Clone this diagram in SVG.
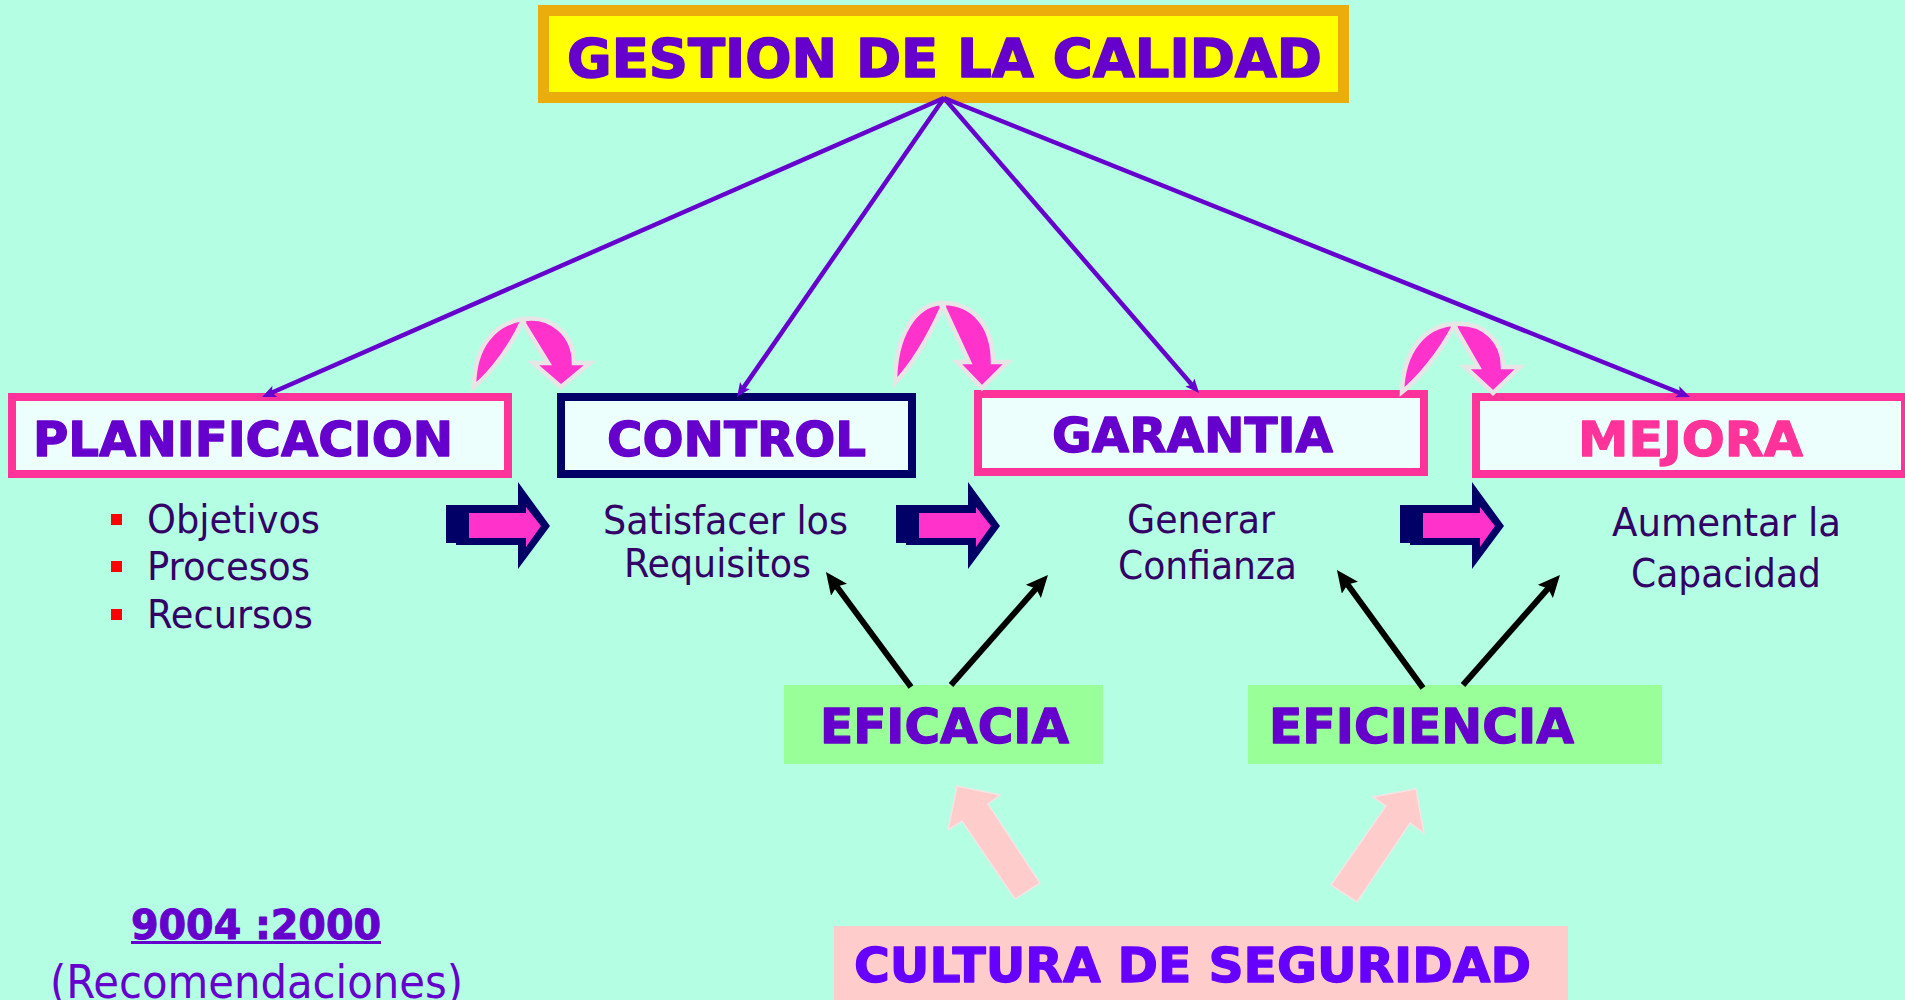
<svg xmlns="http://www.w3.org/2000/svg" width="1905" height="1000" viewBox="0 0 1905 1000">
<style>
.lbl{font-family:'DejaVu Sans','Liberation Sans',sans-serif;font-weight:bold;font-size:48px;fill:#6600CC;stroke:#6600CC;stroke-width:1.3;stroke-linejoin:round}
.body{font-family:'DejaVu Sans Condensed','DejaVu Sans',sans-serif;font-stretch:condensed;font-size:39px;fill:#330066}
.box{fill:#ECFFFC;stroke:#FF3399;stroke-width:8}
.curv{fill:#FF33CC;stroke:#E6E6E6;stroke-width:4.5;stroke-linejoin:miter}
.bo{fill:#000066}
.bi{fill:#FF33CC}
.pl{stroke:#6600CC;stroke-width:4.5;fill:none}
.bl{stroke:#000000;stroke-width:6;fill:none}
.green{fill:#99FF99}
.up{fill:#FFCCCC;stroke:#F4E4E4;stroke-width:1.5}
</style>
<defs>
<marker id="mp" viewBox="0 0 14 12" refX="6" refY="6" markerWidth="14" markerHeight="12" markerUnits="userSpaceOnUse" orient="auto">
<path d="M0,0 L14,6 L0,12 L3,6 z" fill="#6600CC"/>
</marker>
<marker id="mb" viewBox="0 0 22 20" refX="8" refY="10" markerWidth="22" markerHeight="20" markerUnits="userSpaceOnUse" orient="auto">
<path d="M0,0 L22,10 L0,20 L4,10 z" fill="#000000"/>
</marker>
</defs>
<rect x="0" y="0" width="1905" height="1000" fill="#B4FFE4"/>

<g id="title">
<rect x="543.5" y="10.5" width="800" height="87" fill="#FFFF00" stroke="#EBAD0C" stroke-width="11"/>
<text class="lbl" x="567" y="77" style="font-size:54px;stroke-width:1.6" textLength="755" lengthAdjust="spacingAndGlyphs">GESTION DE LA CALIDAD</text>
</g>

<g id="planificacion">
<rect class="box" x="12" y="397" width="496" height="77"/>
<text class="lbl" x="33" y="456" textLength="420" lengthAdjust="spacingAndGlyphs">PLANIFICACION</text>
<rect x="111" y="514" width="11" height="11" fill="#FF0000"/>
<rect x="111" y="561" width="11" height="11" fill="#FF0000"/>
<rect x="111" y="609" width="11" height="11" fill="#FF0000"/>
<text class="body" x="147" y="533" textLength="173" lengthAdjust="spacingAndGlyphs">Objetivos</text>
<text class="body" x="147" y="580" textLength="163" lengthAdjust="spacingAndGlyphs">Procesos</text>
<text class="body" x="147" y="628" textLength="166" lengthAdjust="spacingAndGlyphs">Recursos</text>
</g>

<g id="control">
<rect x="561" y="397" width="351" height="77" fill="#ECFFFC" stroke="#000066" stroke-width="8"/>
<text class="lbl" x="607" y="456" textLength="259" lengthAdjust="spacingAndGlyphs">CONTROL</text>
<text class="body" x="603" y="534" textLength="245" lengthAdjust="spacingAndGlyphs">Satisfacer los</text>
<text class="body" x="624" y="577" textLength="187" lengthAdjust="spacingAndGlyphs">Requisitos</text>
</g>

<g id="garantia">
<rect class="box" x="978" y="394" width="446" height="78"/>
<text class="lbl" x="1052" y="452" textLength="281" lengthAdjust="spacingAndGlyphs">GARANTIA</text>
<text class="body" x="1127" y="533" textLength="148" lengthAdjust="spacingAndGlyphs">Generar</text>
<text class="body" x="1118" y="579" textLength="179" lengthAdjust="spacingAndGlyphs">Confianza</text>
</g>

<g id="mejora">
<rect class="box" x="1476" y="397" width="429" height="77"/>
<text class="lbl" x="1578" y="456" style="fill:#FF3399;stroke:#FF3399" textLength="225" lengthAdjust="spacingAndGlyphs">MEJORA</text>
<text class="body" x="1612" y="536" textLength="229" lengthAdjust="spacingAndGlyphs">Aumentar la</text>
<text class="body" x="1631" y="587" textLength="190" lengthAdjust="spacingAndGlyphs">Capacidad</text>
</g>

<g id="eficacia">
<rect class="green" x="784" y="685" width="319" height="79"/>
<text class="lbl" x="820" y="743" textLength="249" lengthAdjust="spacingAndGlyphs">EFICACIA</text>
</g>

<g id="eficiencia">
<rect class="green" x="1248" y="685" width="414" height="79"/>
<text class="lbl" x="1269" y="743" textLength="305" lengthAdjust="spacingAndGlyphs">EFICIENCIA</text>
</g>

<g id="cultura">
<rect x="834" y="926" width="734" height="80" fill="#FFCCCC"/>
<text class="lbl" x="854" y="982" style="fill:#6600FF;stroke:#6600FF" textLength="677" lengthAdjust="spacingAndGlyphs">CULTURA DE SEGURIDAD</text>
</g>

<g id="norma">
<text class="lbl" x="131" y="939" style="font-size:40px;stroke-width:1" textLength="250" lengthAdjust="spacingAndGlyphs">9004 :2000</text>
<rect x="131" y="941" width="250" height="3" fill="#6600CC"/>
<text class="body" x="50" y="998" style="font-size:46px;fill:#6600CC" textLength="413" lengthAdjust="spacingAndGlyphs">(Recomendaciones)</text>
</g>

<g id="curved-arrows">
<path class="curv" d="M522,319 C495,324 474,345 474,387 C492,372 512,345 522,322 Z"/>
<path class="curv" d="M524,319 C552,315 574,335 574,363 L590,363 L561,387 L533,363 L548,363 L524,324 Z"/>
<path class="curv" d="M941,303 C915,305 895,335 895,383 C915,362 932,330 942,308 Z"/>
<path class="curv" d="M943,303 C975,303 993,328 993,362 L1008,362 L982,388 L957,362 L969,362 L944,308 Z"/>
<path class="curv" d="M1453,324 C1425,326 1403,350 1402,392 C1420,378 1440,352 1453,328 Z"/>
<path class="curv" d="M1455,324 C1485,322 1503,342 1503,367 L1520,367 L1493,393 L1465,367 L1478,367 L1456,329 Z"/>
</g>

<g id="block-arrows">
<g transform="translate(446,526)">
<rect class="bo" x="0" y="-21" width="16" height="38"/>
<polygon class="bo" points="10,-21 72,-21 72,-44 104,0 72,43 72,19 10,19"/>
<polygon class="bi" points="23,-13 80,-13 80,-19 95,0 80,21 80,12 23,12"/>
</g>
<g transform="translate(896,526)">
<rect class="bo" x="0" y="-21" width="16" height="38"/>
<polygon class="bo" points="10,-21 72,-21 72,-44 104,0 72,43 72,19 10,19"/>
<polygon class="bi" points="23,-13 80,-13 80,-19 95,0 80,21 80,12 23,12"/>
</g>
<g transform="translate(1400,526)">
<rect class="bo" x="0" y="-21" width="16" height="38"/>
<polygon class="bo" points="10,-21 72,-21 72,-44 104,0 72,43 72,19 10,19"/>
<polygon class="bi" points="23,-13 80,-13 80,-19 95,0 80,21 80,12 23,12"/>
</g>
</g>

<g id="up-arrows">
<polygon class="up" points="957,786 1000,795 988,804 1040,883 1015,899 962,821 948,830"/>
<polygon class="up" points="1416,789 1424,833 1410,823 1357,902 1331,885 1386,806 1373,797"/>
</g>

<g id="connectors">
<line class="pl" x1="944" y1="98" x2="269.3" y2="393.8" marker-end="url(#mp)"/>
<line class="pl" x1="944" y1="98" x2="741.6" y2="390.4" marker-end="url(#mp)"/>
<line class="pl" x1="944" y1="98" x2="1193.8" y2="387" marker-end="url(#mp)"/>
<line class="pl" x1="944" y1="98" x2="1682.6" y2="394" marker-end="url(#mp)"/>
<line class="bl" x1="911" y1="687" x2="834.3" y2="583.3" marker-end="url(#mb)"/>
<line class="bl" x1="951" y1="685" x2="1038.7" y2="585.5" marker-end="url(#mb)"/>
<line class="bl" x1="1423" y1="688" x2="1345.2" y2="581.3" marker-end="url(#mb)"/>
<line class="bl" x1="1463" y1="685" x2="1550.7" y2="585.5" marker-end="url(#mb)"/>
</g>
</svg>
